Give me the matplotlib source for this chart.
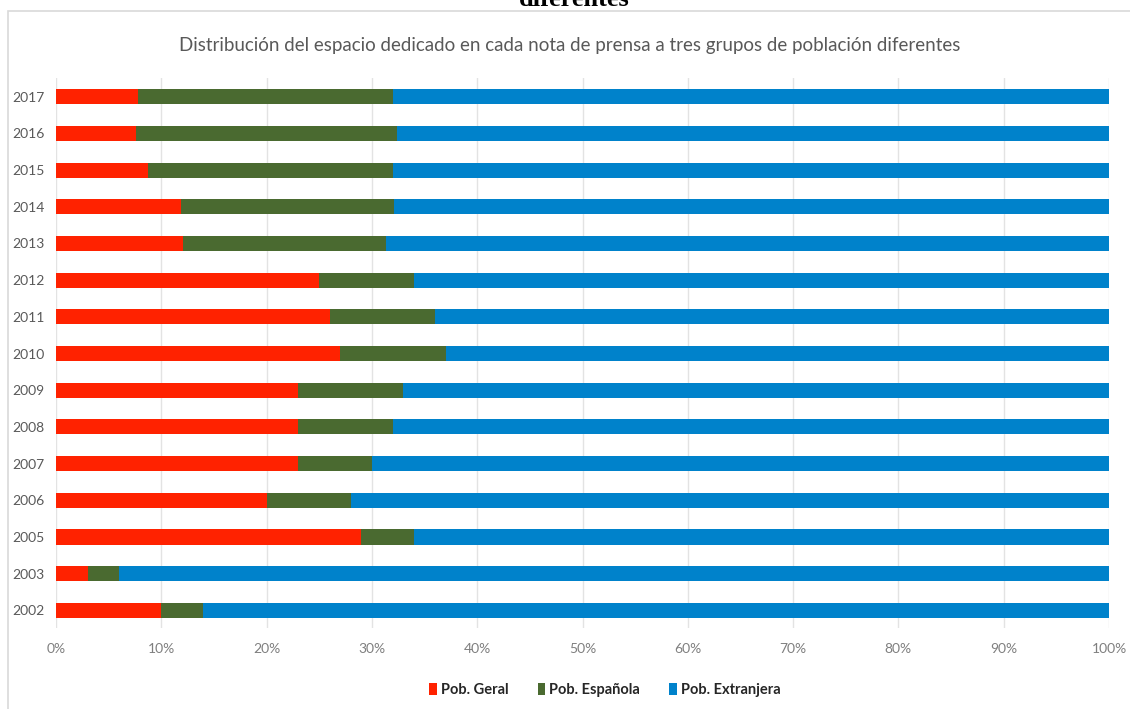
import numpy as np
import matplotlib
matplotlib.use("Agg")
import matplotlib.pyplot as plt
from matplotlib.patches import Rectangle

plt.rcParams['font.family'] = ['Lato', 'DejaVu Sans']

years = ["2002", "2003", "2005", "2006", "2007", "2008", "2009", "2010",
         "2011", "2012", "2013", "2014", "2015", "2016", "2017"]
# share of each press note (percent), bottom to top
pob_geral = [10.0, 3.0, 29.0, 20.0, 23.0, 23.0, 23.0, 27.0,
             26.0, 25.0, 12.1, 11.9, 8.7, 7.6, 7.75]
pob_espanola = [4.0, 3.0, 5.0, 8.0, 7.0, 9.0, 10.0, 10.0,
                10.0, 9.0, 19.2, 20.2, 23.3, 24.8, 24.25]
pob_extranjera = [100 - g - e for g, e in zip(pob_geral, pob_espanola)]

series = ["Pob. Geral", "Pob. Española", "Pob. Extranjera"]
colors = ["#FF2200", "#4A6A30", "#0082CB"]
xticks = np.arange(0, 101, 10)

fig = plt.figure(figsize=(11.3, 7.09), dpi=100)
ax = fig.add_axes([56 / 1130, 1 - 628 / 709, 1053 / 1130, 550 / 709])

y = np.arange(len(years))
left = np.zeros(len(years))
for vals, name, col in zip([pob_geral, pob_espanola, pob_extranjera], series, colors):
    ax.barh(y, vals, left=left, height=0.41, color=col, label=name, zorder=2)
    left += np.array(vals)

ax.set_xlim(0, 100)
ax.set_ylim(-0.48, 14.51)
ax.set_yticks(y)
ax.set_yticklabels(years)
ax.set_xticks(xticks)
ax.set_xticklabels([f"{t}%" for t in xticks])
ax.tick_params(axis='both', length=0, colors="#7F7F7F", labelsize=10)
ax.tick_params(axis='x', pad=11)
ax.tick_params(axis='y', pad=8.5)
for lab in ax.get_yticklabels():
    lab.set_color("#595959")
ax.grid(axis='x', color="#E3E3E3", linewidth=1, zorder=0)
for s in ax.spines.values():
    s.set_visible(False)

fig.text(570 / 1130, 1 - 45 / 709, "Distribución del espacio dedicado en cada nota de prensa a tres grupos de población diferentes",
         ha='center', va='center', fontsize=13.5, color="#595959")

leg = fig.legend(loc='center', bbox_to_anchor=(605 / 1130, 1 - 690 / 709), ncol=3, frameon=False,
                 handlelength=0.5, handleheight=0.9, handletextpad=0.3, columnspacing=2.0,
                 prop={'size': 10.5, 'weight': 'bold'})
for t in leg.get_texts():
    t.set_color("#262626")

# outer chart frame and the clipped caption line above it
fig.patches.append(Rectangle((7.5 / 1130, -0.1), 1.2, 1 - 10.7 / 709 + 0.1, transform=fig.transFigure,
                             fill=False, edgecolor="#D9D9D9", linewidth=1.2))
fig.text(574 / 1130, 1 - 6 / 709, "diferentes", ha='center', va='baseline',
         fontsize=19, fontweight='bold', family='Liberation Serif', color="#000000")

fig.savefig("out.png", dpi=100)
